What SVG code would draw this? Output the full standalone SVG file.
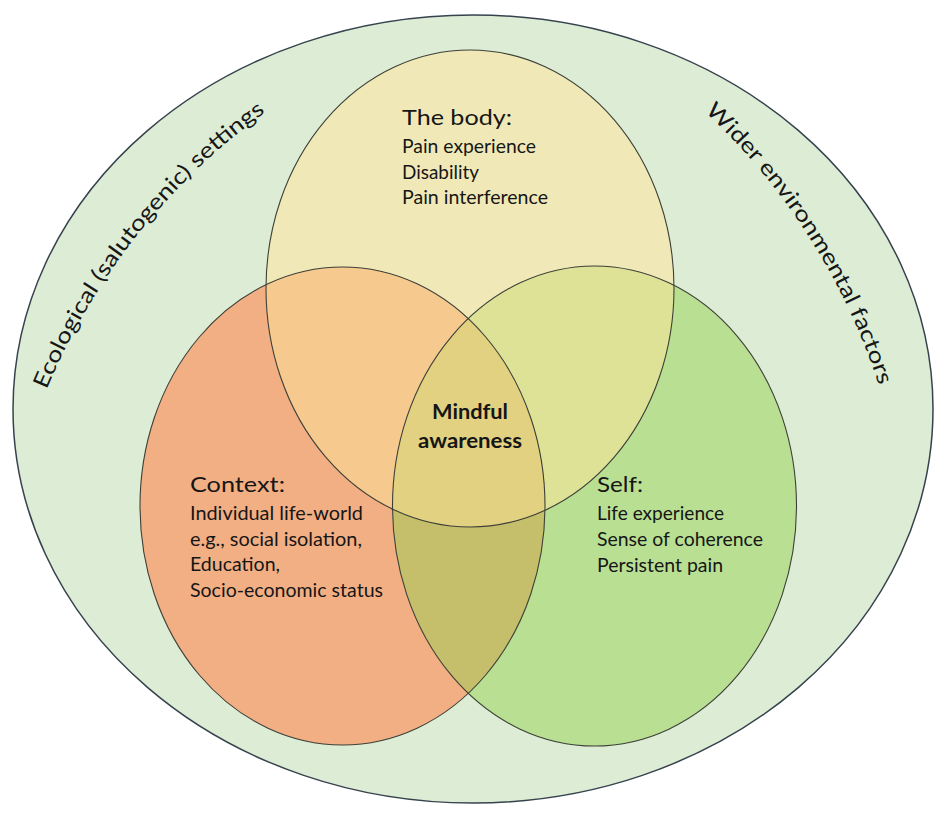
<svg xmlns="http://www.w3.org/2000/svg" xmlns:xlink="http://www.w3.org/1999/xlink" width="945" height="818" viewBox="0 0 945 818">
<style>
.t{font-family:Lato,"Liberation Sans",sans-serif;fill:#161616}
.h{font-size:22px}
.b{font-size:19px}
.m{font-size:20px;font-weight:bold}
.r{font-size:22px}
.ol{fill:none;stroke:#3e4038;stroke-width:1.1}
</style>
<defs>
<ellipse id="eT" cx="470" cy="288.5" rx="204" ry="238.5"/>
<ellipse id="eL" cx="342.5" cy="506" rx="202.5" ry="239"/>
<ellipse id="eR" cx="594.5" cy="506" rx="202" ry="240"/>
<clipPath id="cT"><use xlink:href="#eT"/></clipPath>
<clipPath id="cL"><use xlink:href="#eL"/></clipPath>
<path id="pLeft" d="M 40 406 A 650 650 0 0 1 280 102"/>
<path id="pRight" d="M 692 100 A 650 650 0 0 1 884 402"/>
</defs>
<rect width="945" height="818" fill="#ffffff"/>
<g id="outer">
<ellipse cx="473" cy="409" rx="460" ry="394" fill="#ddecd5" stroke="#36424e" stroke-width="1.5"/>
<text class="t r"><textPath xlink:href="#pLeft" startOffset="50%" text-anchor="middle" textLength="358" lengthAdjust="spacingAndGlyphs">Ecological (salutogenic) settings</textPath></text>
<text class="t r"><textPath xlink:href="#pRight" startOffset="50%" text-anchor="middle" textLength="328" lengthAdjust="spacingAndGlyphs">Wider environmental factors</textPath></text>
</g>
<g id="regions">
<use xlink:href="#eT" fill="#f0e9b7"/>
<use xlink:href="#eL" fill="#f2af84"/>
<use xlink:href="#eR" fill="#b9df93"/>
<use xlink:href="#eL" fill="#f6ca8f" clip-path="url(#cT)"/>
<use xlink:href="#eR" fill="#dde297" clip-path="url(#cT)"/>
<use xlink:href="#eR" fill="#c5bf6c" clip-path="url(#cL)"/>
<g clip-path="url(#cT)"><use xlink:href="#eR" fill="#e2d181" clip-path="url(#cL)"/></g>
</g>
<g id="body">
<use xlink:href="#eT" class="ol"/>
<text class="t h" x="402" y="125" textLength="110" lengthAdjust="spacingAndGlyphs">The body:</text>
<text class="t b" x="402" y="153" textLength="134" lengthAdjust="spacingAndGlyphs">Pain experience</text>
<text class="t b" x="402" y="179" textLength="77" lengthAdjust="spacingAndGlyphs">Disability</text>
<text class="t b" x="402" y="204" textLength="146" lengthAdjust="spacingAndGlyphs">Pain interference</text>
</g>
<g id="context">
<use xlink:href="#eL" class="ol"/>
<text class="t h" x="190" y="492" textLength="95" lengthAdjust="spacingAndGlyphs">Context:</text>
<text class="t b" x="190" y="520" textLength="173" lengthAdjust="spacingAndGlyphs">Individual life-world</text>
<text class="t b" x="190" y="546" textLength="172" lengthAdjust="spacingAndGlyphs">e.g., social isolation,</text>
<text class="t b" x="190" y="571" textLength="90" lengthAdjust="spacingAndGlyphs">Education,</text>
<text class="t b" x="190" y="597" textLength="193" lengthAdjust="spacingAndGlyphs">Socio-economic status</text>
</g>
<g id="self">
<use xlink:href="#eR" class="ol"/>
<text class="t h" x="597" y="492" textLength="46" lengthAdjust="spacingAndGlyphs">Self:</text>
<text class="t b" x="597" y="520" textLength="127" lengthAdjust="spacingAndGlyphs">Life experience</text>
<text class="t b" x="597" y="546" textLength="166" lengthAdjust="spacingAndGlyphs">Sense of coherence</text>
<text class="t b" x="597" y="572" textLength="126" lengthAdjust="spacingAndGlyphs">Persistent pain</text>
</g>
<g id="mindful">
<text class="t m" x="470" y="419" text-anchor="middle" textLength="76" lengthAdjust="spacingAndGlyphs">Mindful</text>
<text class="t m" x="470" y="448" text-anchor="middle" textLength="104" lengthAdjust="spacingAndGlyphs">awareness</text>
</g>
</svg>
